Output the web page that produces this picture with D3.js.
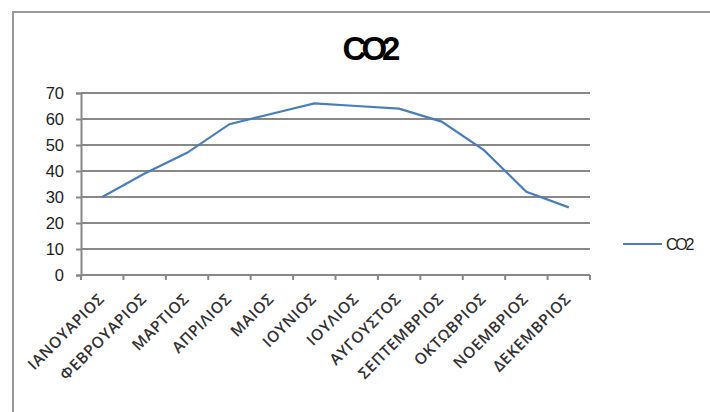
<!DOCTYPE html>
<html>
<head>
<meta charset="utf-8">
<script src="https://cdn.jsdelivr.net/npm/d3@7"></script>
<style>
  body { margin: 0; background: #fff; }
  text { font-family: "Liberation Sans", Arial, sans-serif; }
</style>
</head>
<body>
<script>
var months = ['ΙΑΝΟΥΑΡΙΟΣ', 'ΦΕΒΡΟΥΑΡΙΟΣ', 'ΜΑΡΤΙΟΣ', 'ΑΠΡΙΛΙΟΣ', 'ΜΑΙΟΣ', 'ΙΟΥΝΙΟΣ',
              'ΙΟΥΛΙΟΣ', 'ΑΥΓΟΥΣΤΟΣ', 'ΣΕΠΤΕΜΒΡΙΟΣ', 'ΟΚΤΩΒΡΙΟΣ', 'ΝΟΕΜΒΡΙΟΣ', 'ΔΕΚΕΜΒΡΙΟΣ'];
var co2 = [30, 39, 47, 58, 62, 66, 65, 64, 59, 48, 32, 26];
var yTicks = [0, 10, 20, 30, 40, 50, 60, 70];

var width = 710, height = 412;
var plotLeft = 81, plotRight = 590, plotTop = 93, plotBottom = 275;

var svg = d3.select('body').append('svg')
    .attr('width', width)
    .attr('height', height);

// chart frame
svg.append('rect')
    .attr('x', 13).attr('y', 12)
    .attr('width', 720).attr('height', 420)
    .attr('fill', 'none')
    .attr('stroke', '#999')
    .attr('stroke-width', 2);

var x = d3.scaleBand().domain(months).range([plotLeft, plotRight]);
var y = d3.scaleLinear().domain([0, 70]).range([plotBottom, plotTop]);

// gridlines
svg.append('g').selectAll('line')
    .data(yTicks)
    .enter().append('line')
    .attr('x1', plotLeft).attr('x2', plotRight)
    .attr('y1', function(d) { return y(d); })
    .attr('y2', function(d) { return y(d); })
    .attr('stroke', '#888')
    .attr('stroke-width', 2);

// y axis
var yAxis = svg.append('g')
    .attr('transform', 'translate(' + plotLeft + ',0)')
    .call(d3.axisLeft(y).tickValues(yTicks).tickSize(5).tickPadding(12));
yAxis.select('.domain').attr('stroke', '#888').attr('stroke-width', 2);
yAxis.selectAll('.tick line').attr('stroke', '#888').attr('stroke-width', 2);
yAxis.selectAll('text')
    .attr('font-size', 16.5)
    .attr('fill', '#222')
    .style('font-family', '"Liberation Sans", Arial, sans-serif');

// x axis: ticks on category boundaries
var xAxis = svg.append('g')
    .attr('transform', 'translate(0,' + plotBottom + ')');
xAxis.append('line')
    .attr('x1', plotLeft).attr('x2', plotRight)
    .attr('stroke', '#888').attr('stroke-width', 2);
xAxis.selectAll('.tk')
    .data(months.concat(['end']))
    .enter().append('line')
    .attr('class', 'tk')
    .attr('x1', function(d, i) { return i < months.length ? x(d) : plotRight; })
    .attr('x2', function(d, i) { return i < months.length ? x(d) : plotRight; })
    .attr('y1', 0).attr('y2', 5)
    .attr('stroke', '#888').attr('stroke-width', 2);

xAxis.selectAll('.lbl')
    .data(months)
    .enter().append('text')
    .attr('class', 'lbl')
    .attr('transform', function(d) {
      return 'translate(' + (x(d) + x.bandwidth() / 2 + 3) + ',25) rotate(-45)';
    })
    .attr('text-anchor', 'end')
    .attr('font-size', 15.5)
    .attr('font-weight', 600)
    .attr('letter-spacing', 0.6)
    .attr('fill', '#333')
    .style('font-family', '"Open Sans", sans-serif')
    .text(function(d) { return d; });

// line
var line = d3.line()
    .x(function(d, i) { return x(months[i]) + x.bandwidth() / 2; })
    .y(function(d) { return y(d); });

svg.append('path')
    .datum(co2)
    .attr('d', line)
    .attr('fill', 'none')
    .attr('stroke', '#4a7ebb')
    .attr('stroke-width', 2.2);

// title
svg.append('text')
    .attr('x', 369).attr('y', 60)
    .attr('text-anchor', 'middle')
    .attr('font-size', 33)
    .attr('font-weight', 'bold')
    .attr('letter-spacing', -5)
    .attr('fill', '#000')
    .text('CO2');

// legend
svg.append('line')
    .attr('x1', 623).attr('x2', 662)
    .attr('y1', 244).attr('y2', 244)
    .attr('stroke', '#4a7ebb')
    .attr('stroke-width', 2.2);
svg.append('text')
    .attr('x', 666).attr('y', 250)
    .attr('font-size', 16)
    .attr('letter-spacing', -2.2)
    .attr('fill', '#222')
    .text('CO2');
</script>
</body>
</html>
